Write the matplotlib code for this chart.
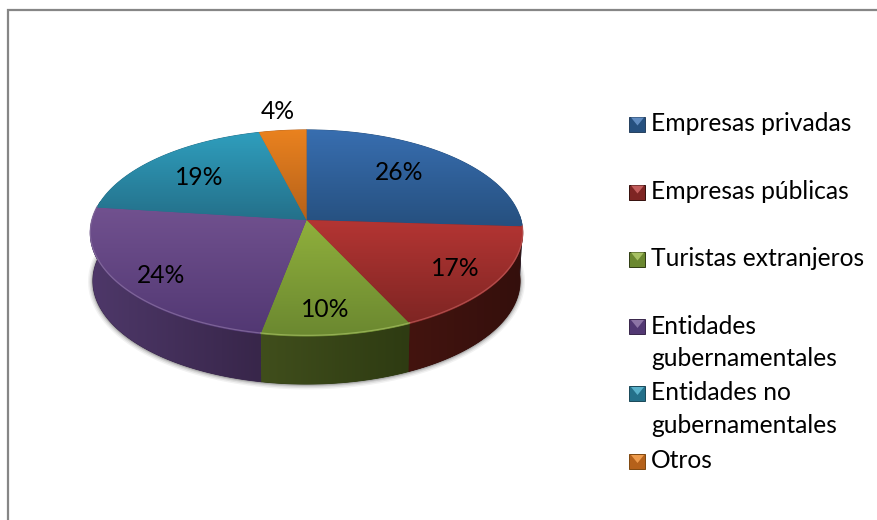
import numpy as np
import matplotlib
matplotlib.use("Agg")
import matplotlib.pyplot as plt
from matplotlib.patches import Polygon, Rectangle
from matplotlib.colors import LinearSegmentedColormap, to_rgb

categories = ["Empresas privadas", "Empresas públicas", "Turistas extranjeros",
              "Entidades\ngubernamentales", "Entidades no\ngubernamentales", "Otros"]
values = [26, 17, 10, 24, 19, 4]
labels = ["26%", "17%", "10%", "24%", "19%", "4%"]
top_light = ["#386eb0", "#b43533", "#90b03c", "#71518f", "#2f9ebd", "#ea821f"]
top_dark = ["#26507f", "#7e2523", "#6b8830", "#523873", "#24708a", "#b5611a"]
side_light = ["#3a5f8a", "#43140f", "#404e1c", "#4e3869", "#236070", "#a05a15"]
side_dark = ["#26405f", "#340f0c", "#2e3b12", "#38264a", "#1a4858", "#804810"]

label_xy = [(399, 172), (455, 269), (325, 309.5), (161, 275.5), (199, 177.5), (278, 111.5)]
legend_y = [123.5, 191.5, 258.5, 326, 393, 461]

CX, CY, RX, RY, K, DEPTH = 306.5, 220, 214.5, 101.5, 0.126, 48
LINE_STEP = 32.5
FONT = 17.7

plt.rcParams["font.family"] = ["Lato", "DejaVu Sans"]
fig = plt.figure(figsize=(8.78, 5.2), dpi=100)
ax = fig.add_axes([0, 0, 1, 1])
ax.set_xlim(0, 878)
ax.set_ylim(520, 0)
ax.axis("off")

# frame (left and top only)
ax.plot([8, 8, 878], [520, 9.5, 9.5], color="#868686", lw=1.6,
        solid_capstyle="butt", solid_joinstyle="miter")


def proj(theta, down=0.0):
    """Project an angle on the tilted disc to pixels (perspective)."""
    d = 1 + K * np.cos(theta)
    shrink = 1 - 0.012 * (down / DEPTH)
    return CX + shrink * RX * np.sin(theta) / d, CY - RY * np.cos(theta) / d + down


def lighten(c, f):
    r = np.array(to_rgb(c))
    return tuple(r + (1 - r) * f)


def gradient_fill(px, py, c0, c1, horizontal, z):
    xy = np.column_stack([px, py])
    # solid base so no white seam shows between neighbouring faces
    ax.add_patch(Polygon(xy, fc=c1, ec=c1, lw=0.6, zorder=z - 0.1))
    poly = Polygon(xy, fc="none", ec="none")
    ax.add_patch(poly)
    cmap = LinearSegmentedColormap.from_list("g", [c0, c1])
    g = np.linspace(0, 1, 128)
    arr = g[None, :] if horizontal else g[:, None]
    im = ax.imshow(arr, cmap=cmap, aspect="auto", zorder=z, interpolation="bilinear",
                   extent=[px.min(), px.max(), py.max(), py.min()])
    im.set_clip_path(poly)


edges = np.cumsum([0] + values) / sum(values) * 2 * np.pi

# soft shadow under the rim
tt = np.linspace(np.pi * 0.47, np.pi * 1.55, 200)
for w, a in [(7, 0.05), (5, 0.07), (3, 0.10), (1.5, 0.14)]:
    x, y = proj(tt, DEPTH)
    ax.plot(x, y + 0.5, color="black", alpha=a, lw=w, zorder=1, solid_capstyle="round")

# rim
for i, v in enumerate(values):
    a0, a1 = max(edges[i], np.pi * 0.5 - 0.05), min(edges[i + 1], np.pi * 1.56)
    if a1 <= a0:
        continue
    t = np.linspace(a0, a1, 150)
    xt, yt = proj(t)
    xb, yb = proj(t[::-1], DEPTH)
    gradient_fill(np.r_[xt, xb], np.r_[yt, yb], side_light[i], side_dark[i], True, 2)

# top faces with a vertical gradient, clipped to each slice
for i, v in enumerate(values):
    t = np.linspace(edges[i], edges[i + 1], 120)
    x, y = proj(t)
    px = np.r_[CX, x]
    py = np.r_[CY, y]
    gradient_fill(px, py, top_light[i], top_dark[i], False, 3)
    mid = (edges[i] + edges[i + 1]) / 2
    if np.cos(mid) < 0.2:
        ax.plot(x, y - 0.8, color=lighten(top_light[i], 0.2), lw=0.9, alpha=0.7, zorder=3.2)
ax.set_xlim(0, 878)
ax.set_ylim(520, 0)

for (lx, ly), s in zip(label_xy, labels):
    ax.text(lx, ly, s, fontsize=FONT, ha="center", va="center", color="black", zorder=5)

# legend
for i, (name, ly) in enumerate(zip(categories, legend_y)):
    x0, x1, y0, y1 = 629.5, 645.5, ly - 7, ly + 8
    ax.add_patch(Rectangle((x0, y0), x1 - x0, y1 - y0, fc=top_dark[i], ec=side_dark[i],
                           lw=0.7, zorder=4))
    ax.add_patch(Polygon([(x0 + 1.5, y0 + 1), (x1 - 1.5, y0 + 1), ((x0 + x1) / 2, y0 + 9)],
                         fc=lighten(top_light[i], 0.2), ec="none", zorder=4.1))
    for k, line in enumerate(name.split("\n")):
        ax.text(651, ly + k * LINE_STEP, line, fontsize=FONT, ha="left", va="center",
                color="black", zorder=5)

fig.savefig("out.png", dpi=100, facecolor="white")
